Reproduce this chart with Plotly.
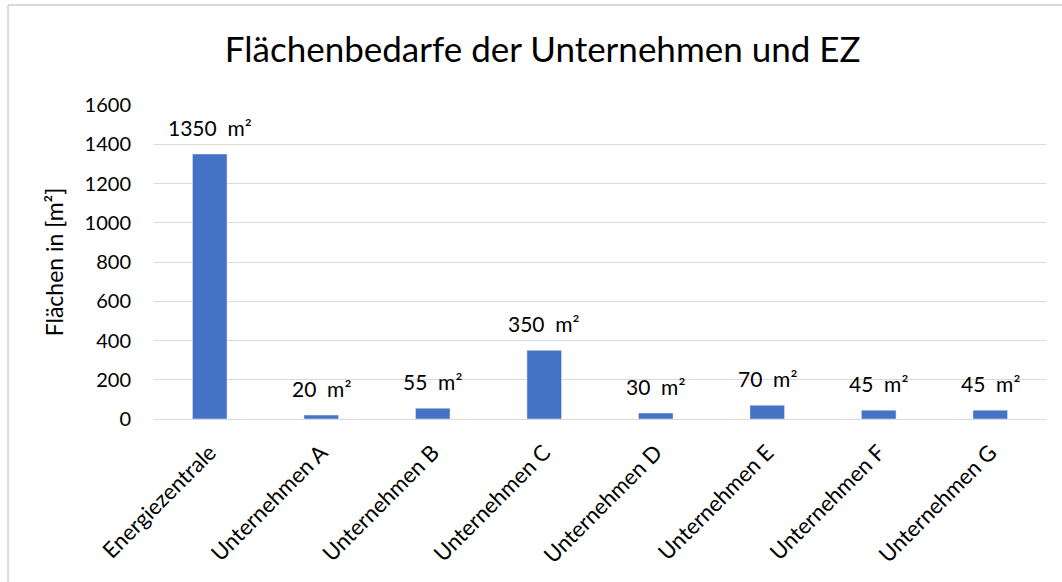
import plotly.graph_objects as go

categories = ["Energiezentrale", "Unternehmen A", "Unternehmen B", "Unternehmen C",
              "Unternehmen D", "Unternehmen E", "Unternehmen F", "Unternehmen G"]
areas = [1350, 20, 55, 350, 30, 70, 45, 45]
y_ticks = [0, 200, 400, 600, 800, 1000, 1200, 1400, 1600]

FONT = "Lato, 'Open Sans', sans-serif"
BAR = "#4472C4"
GRID = "#D9D9D9"

fig = go.Figure(go.Bar(
    x=categories, y=areas, marker_color=BAR, width=0.31,
    hoverinfo="x+y",
))

# value labels above each bar
for cat, val in zip(categories, areas):
    fig.add_annotation(
        x=cat, y=val, text=f"{val}  m²", showarrow=False,
        yanchor="bottom", yshift=12, font=dict(family=FONT, size=21, color="#000000"),
    )

# chart frame (top and left edges visible)
fig.add_shape(type="line", xref="paper", yref="paper", x0=-0.1635, x1=1.05, y0=1.3185, y1=1.3185,
              line=dict(color="#D9D9D9", width=2))
fig.add_shape(type="line", xref="paper", yref="paper", x0=-0.1635, x1=-0.1635, y0=1.3185, y1=-1.0,
              line=dict(color="#D9D9D9", width=2))

fig.update_layout(
    width=1062, height=582,
    margin=dict(l=154, r=16, t=105, b=163, autoexpand=False),
    paper_bgcolor="white", plot_bgcolor="white",
    showlegend=False,
    font=dict(family=FONT, color="#000000"),
    title=dict(text="Flächenbedarfe der Unternehmen und EZ", x=0.511, xanchor="center",
               y=0.914, yanchor="middle", font=dict(family=FONT, size=35, color="#000000")),
    xaxis=dict(tickangle=-45, tickfont=dict(family=FONT, size=22, color="#000000"),
               showline=True, linecolor=GRID, linewidth=1, ticks="", ticklabelstandoff=11,
               automargin=False),
    yaxis=dict(range=[0, 1600], tickvals=y_ticks, tickfont=dict(family=FONT, size=20, color="#000000"),
               gridcolor=GRID, gridwidth=1, zeroline=False, showline=False, ticks="",
               ticklabelstandoff=22, automargin=False,
               title=dict(text="Flächen in [m²]", font=dict(family=FONT, size=23, color="#000000"),
                          standoff=14)),
)

fig.write_html("out.html")
